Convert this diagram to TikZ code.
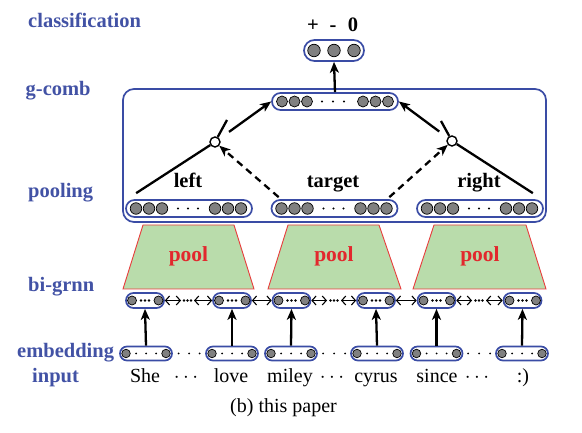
\documentclass[tikz,border=0pt]{standalone}
\usepackage{fontspec}
\setmainfont{Liberation Serif}
\usetikzlibrary{arrows.meta,calc}
\definecolor{labblue}{RGB}{66,82,165}
\definecolor{capblue}{RGB}{58,76,165}
\definecolor{unitgray}{RGB}{128,128,128}
\definecolor{poolgreen}{RGB}{185,220,171}
\definecolor{poolred}{RGB}{232,60,60}
\definecolor{pooltext}{RGB}{226,40,45}
\begin{document}
\begin{tikzpicture}[x=1pt,y=-1pt,
  lab/.style={font=\fontsize{20.5}{22}\selectfont\bfseries, text=labblue, anchor=base west, inner sep=0},
  word/.style={font=\fontsize{20}{22}\selectfont, anchor=base, inner sep=0},
  head/.style={font=\fontsize{20.5}{22}\selectfont\bfseries, anchor=base, inner sep=0},
  pooltxt/.style={font=\fontsize{21.5}{23}\selectfont\bfseries, text=pooltext, inner sep=0},
  capsule/.style={draw=capblue, line width=1.7pt, inner sep=0, rectangle},
  unit/.style={circle, draw=black, fill=unitgray, line width=0.7pt, inner sep=0, minimum size=#1},
  dotnode/.style={circle, fill=black, inner sep=0, minimum size=#1},
  gate/.style={circle, draw=black, fill=white, line width=1.4pt, inner sep=0, minimum size=10pt},
  thickline/.style={line width=2.3pt},
  thickarrow/.style={line width=2.3pt, -{Stealth[length=11pt,width=9pt,inset=3pt]}},
  dasharrow/.style={line width=2.3pt, dash pattern=on 7pt off 5pt, -{Stealth[length=11pt,width=9pt,inset=3pt]}},
  biarrow/.style={line width=1.1pt, {Straight Barb[length=4pt,width=9pt]}-{Straight Barb[length=4pt,width=9pt]}},
  trap/.style={fill=poolgreen, draw=poolred, line width=0.9pt}
]
\path[use as bounding box] (0,0) rectangle (582,433);

% side labels
\node[lab] (lcls) at (28,28) {classification};
\node[lab] (lgc) at (25.5,96) {g-comb};
\node[lab] (lpool) at (28,198) {pooling};
\node[lab] (lbi) at (28,292) {bi-grnn};
\node[lab] (lemb) at (17,358) {embedding};
\node[lab] (linp) at (32,382) {input};

% classification
\node[capsule, minimum width=60pt, minimum height=21pt, rounded corners=10.5pt] (cls) at (334,50.5) {};
\foreach \x [count=\i] in {314,334,354} \node[unit=12.5pt] (cu\i) at (\x,50.5) {};
\node[head] (hp) at (313,32) {+};
\node[head] (hm) at (333,32) {-};
\node[head] (h0) at (353,32) {0};

% g-comb frame
\node[draw=capblue, line width=1.7pt, rounded corners=11pt, minimum width=423pt, minimum height=133pt, inner sep=0] (frame) at (334.5,155.5) {};
\node[capsule, minimum width=126pt, minimum height=17pt, rounded corners=8.5pt] (gtop) at (335,101.5) {};
\foreach \x [count=\i] in {282,294.5,307,363,375.5,388} \node[unit=11pt] (gu\i) at (\x,101.5) {};
\foreach \x [count=\i] in {322,333,344} \node[dotnode=2.2pt] (gd\i) at (\x,101.5) {};
\draw[thickarrow] (gtop.north) -- (cls.south);

% pooling vectors
\foreach \n/\c in {pl/189, pm/334.5, pr/480}{
  \node[capsule, minimum width=126pt, minimum height=17pt, rounded corners=8.5pt] (\n) at (\c,208.5) {};
  \foreach \o [count=\i] in {-53,-40,-27,26,39,52} \node[unit=11.5pt] (\n u\i) at (\c+\o,208.5) {};
  \foreach \o [count=\i] in {-11,-1,9} \node[dotnode=2.2pt] (\n d\i) at (\c+\o,208.5) {};
}
\node[head] (tleft) at (188,188) {left};
\node[head] (ttarget) at (333,188) {target};
\node[head] (tright) at (479,188) {right};

% gates
\node[gate] (gl) at (215,142) {};
\node[gate] (gr) at (452,141) {};
\coordinate (tkl) at (227,120);
\coordinate (tkr) at (441,121);
\draw[thickline] ($(pl.north west)+(11,-6)$) -- (gl);
\draw[thickline] (gl) -- (tkl);
\draw[thickarrow] ($(gl)!0.25!(gtop.west)$) -- (gtop.west);
\draw[dasharrow] ($(pm.north west)+(8,-2)$) -- (gl);
\draw[thickline] ($(pr.north east)+(-11,-6)$) -- (gr);
\draw[thickline] (gr) -- (tkr);
\draw[thickarrow] ($(gr)!0.24!(gtop.east)$) -- (gtop.east);
\draw[dasharrow] ($(pm.north east)+(-9,-2)$) -- (gr);

% pool trapezoids
\draw[trap] (143,225) -- (234,225) -- (254,289) -- (123,289) -- cycle;
\draw[trap] (288,225) -- (379,225) -- (401,289) -- (268,289) -- cycle;
\draw[trap] (434,225) -- (526,225) -- (546,289) -- (413,289) -- cycle;
\node[pooltxt] (pt1) at (188.5,256) {pool};
\node[pooltxt] (pt2) at (334,256) {pool};
\node[pooltxt] (pt3) at (480,256) {pool};

% bi-grnn capsules
\foreach \c [count=\k] in {145,232,291.5,376,436.5,522.5}{
  \node[capsule, minimum width=38pt, minimum height=15pt, rounded corners=7.5pt] (b\k) at (\c,300.5) {};
  \node[unit=9pt] (b\k l) at (\c-13,300.5) {};
  \node[unit=9pt] (b\k r) at (\c+13.5,300.5) {};
  \foreach \o [count=\i] in {-4,0,4} \node[dotnode=2.6pt] (b\k d\i) at (\c+\o,300.5) {};
}
% bi-grnn connectors
\coordinate (a1) at (181,300.5); \coordinate (a2) at (194,300.5);
\coordinate (a3) at (327,300.5); \coordinate (a4) at (341,300.5);
\coordinate (a5) at (472,300.5); \coordinate (a6) at (486,300.5);
\draw[biarrow] (b1.east) -- (a1);
\draw[biarrow] (a2) -- (b2.west);
\draw[biarrow] (b2.east) -- (b3.west);
\draw[biarrow] (b3.east) -- (a3);
\draw[biarrow] (a4) -- (b4.west);
\draw[biarrow] (b4.east) -- (b5.west);
\draw[biarrow] (b5.east) -- (a5);
\draw[biarrow] (a6) -- (b6.west);
\foreach \x [count=\i] in {184,187.5,191,330.5,334,337.5,475.5,479,482.5} \node[dotnode=2.6pt] (cd\i) at (\x,300.5) {};

% embedding capsules
\foreach \c [count=\k] in {146,232,291,377,436.5,522}{
  \node[capsule, minimum width=52pt, minimum height=14pt, rounded corners=7pt] (e\k) at (\c,353.5) {};
  \node[unit=8.5pt] (e\k l) at (\c-20,353.5) {};
  \node[unit=8.5pt] (e\k r) at (\c+20,353.5) {};
  \foreach \o [count=\i] in {-10,0,10} \node[dotnode=2pt] (e\k d\i) at (\c+\o,353.5) {};
  \draw[thickarrow] (e\k.north) -- (b\k.south);
}
\foreach \x [count=\i] in {178.5,189,199.5,323,334,345,468,479,490} \node[dotnode=2pt] (ed\i) at (\x,353.5) {};

% words
\node[word] (w1) at (145,382) {She};
\node[word] (w2) at (186,382) {$\cdots$};
\node[word] (w3) at (231,382) {love};
\node[word] (w4) at (290,382) {miley};
\node[word] (w5) at (332,382) {$\cdots$};
\node[word] (w6) at (376,382) {cyrus};
\node[word] (w7) at (437,382) {since};
\node[word] (w8) at (477,382) {$\cdots$};
\node[word] (w9) at (523,382) {:)};

\node[word] (cap) at (283.5,413) {(b) this paper};
\end{tikzpicture}
\end{document}
